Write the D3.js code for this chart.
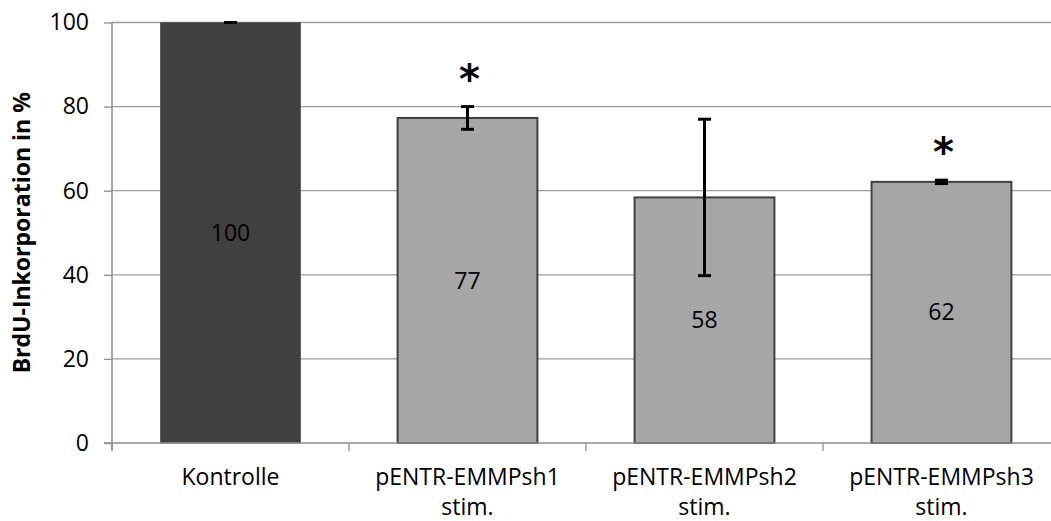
<!DOCTYPE html>
<html>
<head>
<meta charset="utf-8">
<script src="https://cdn.jsdelivr.net/npm/d3@7"></script>
<style>
  html, body { margin: 0; padding: 0; background: #fff; }
  svg { display: block; }
  text { font-family: "Open Sans", "Lato", sans-serif; fill: #000; }
</style>
</head>
<body>
<svg id="chart" width="1051" height="521"></svg>
<script>
// Categories and measured values (BrdU incorporation, % of control)
const categories = ["Kontrolle", "pENTR-EMMPsh1 stim.", "pENTR-EMMPsh2 stim.", "pENTR-EMMPsh3 stim."];
const values = [100, 77.3, 58.4, 62.1];
const errors = [0, 2.7, 18.6, 0.4];
const labels = ["100", "77", "58", "62"];
const significant = [false, true, false, true];
const yTicks = [0, 20, 40, 60, 80, 100];

const svg = d3.select("#chart");
const margin = { left: 112, top: 22.5, bottom: 78 };
const plotH = 521 - margin.top - margin.bottom;
const step = 237;

const x = d3.scaleBand()
  .domain(categories)
  .range([margin.left, margin.left + categories.length * step])
  .paddingInner(0.41)
  .paddingOuter(0.205);

const y = d3.scaleLinear().domain([0, 100]).range([margin.top + plotH, margin.top]);

// Horizontal gridlines
svg.append("g")
  .selectAll("line")
  .data(yTicks.filter(d => d > 0))
  .join("line")
  .attr("x1", margin.left).attr("x2", 1060)
  .attr("y1", d => y(d)).attr("y2", d => y(d))
  .attr("stroke", "#9d9d9d").attr("stroke-width", 1.3);

// Y axis
const yAxis = svg.append("g")
  .attr("transform", `translate(${margin.left},0)`)
  .call(d3.axisLeft(y).tickValues(yTicks).tickSize(8).tickPadding(15).tickFormat(d3.format("d")));
yAxis.select(".domain").attr("stroke", "#8c8c8c").attr("stroke-width", 1.5).attr("d", `M0,${y(100)}V${y(0) + 8}`);
yAxis.selectAll(".tick line").attr("stroke", "#8c8c8c").attr("stroke-width", 1.3);
yAxis.selectAll(".tick text").style("font-size", "23px").attr("fill", "#000");

// Bars
svg.append("g")
  .selectAll("rect")
  .data(categories)
  .join("rect")
  .attr("x", d => x(d))
  .attr("width", x.bandwidth())
  .attr("y", (d, i) => y(values[i]))
  .attr("height", (d, i) => y(0) - y(values[i]))
  .attr("fill", (d, i) => i === 0 ? "#404040" : "#a6a6a6")
  .attr("stroke", (d, i) => i === 0 ? "#5a5a5a" : "#404040")
  .attr("stroke-width", (d, i) => i === 0 ? 1 : 2);

// X axis line with category boundary ticks
const xBounds = d3.range(categories.length + 1).map(i => margin.left + i * step);
svg.append("line")
  .attr("x1", margin.left - 8).attr("x2", 1060)
  .attr("y1", y(0)).attr("y2", y(0))
  .attr("stroke", "#8c8c8c").attr("stroke-width", 1.5);
svg.append("g").selectAll("line")
  .data(xBounds)
  .join("line")
  .attr("x1", d => d).attr("x2", d => d)
  .attr("y1", y(0)).attr("y2", y(0) + 8)
  .attr("stroke", "#8c8c8c").attr("stroke-width", 1.3);

// Error bars
const eb = svg.append("g").attr("stroke", "#000");
categories.forEach((c, i) => {
  const cx = x(c) + x.bandwidth() / 2;
  const hi = y(values[i] + errors[i]);
  const lo = y(values[i] - errors[i]);
  eb.append("line").attr("x1", cx).attr("x2", cx).attr("y1", hi).attr("y2", lo).attr("stroke-width", 3);
  [hi, lo].forEach(py => {
    eb.append("line").attr("x1", cx - 6.5).attr("x2", cx + 6.5).attr("y1", py).attr("y2", py).attr("stroke-width", 3);
  });
});

// Value labels in bar centres
svg.append("g")
  .selectAll("text")
  .data(categories)
  .join("text")
  .attr("x", d => x(d) + x.bandwidth() / 2)
  .attr("y", (d, i) => y(values[i] / 2))
  .attr("dy", "0.35em")
  .attr("text-anchor", "middle")
  .style("font-size", "23px")
  .text((d, i) => labels[i]);

// Significance markers
svg.append("g")
  .selectAll("text")
  .data(categories.filter((d, i) => significant[i]))
  .join("text")
  .attr("x", d => x(d) + x.bandwidth() / 2 + 2)
  .attr("y", d => y(values[categories.indexOf(d)] + errors[categories.indexOf(d)]) - 14)
  .attr("text-anchor", "middle")
  .style("font-family", "DejaVu Sans")
  .style("font-weight", "bold")
  .style("font-size", "40px")
  .text("*");

// Category labels (wrapped onto two lines)
svg.append("g")
  .selectAll("text")
  .data(categories)
  .join("text")
  .attr("text-anchor", "middle")
  .attr("x", d => x(d) + x.bandwidth() / 2)
  .attr("y", 485)
  .style("font-size", "23px")
  .each(function(d) {
    const parts = d.split(" ");
    const t = d3.select(this);
    parts.forEach((p, k) => {
      t.append("tspan").attr("x", x(d) + x.bandwidth() / 2).attr("dy", k === 0 ? 0 : 30).text(p);
    });
  });

// Y axis title
svg.append("text")
  .attr("transform", `translate(22,${(y(0) + y(100)) / 2 + 0}) rotate(-90)`)
  .attr("text-anchor", "middle")
  .attr("dy", "0.35em")
  .style("font-size", "23px")
  .style("font-weight", "bold")
  .text("BrdU-Inkorporation in %");
</script>
</body>
</html>
